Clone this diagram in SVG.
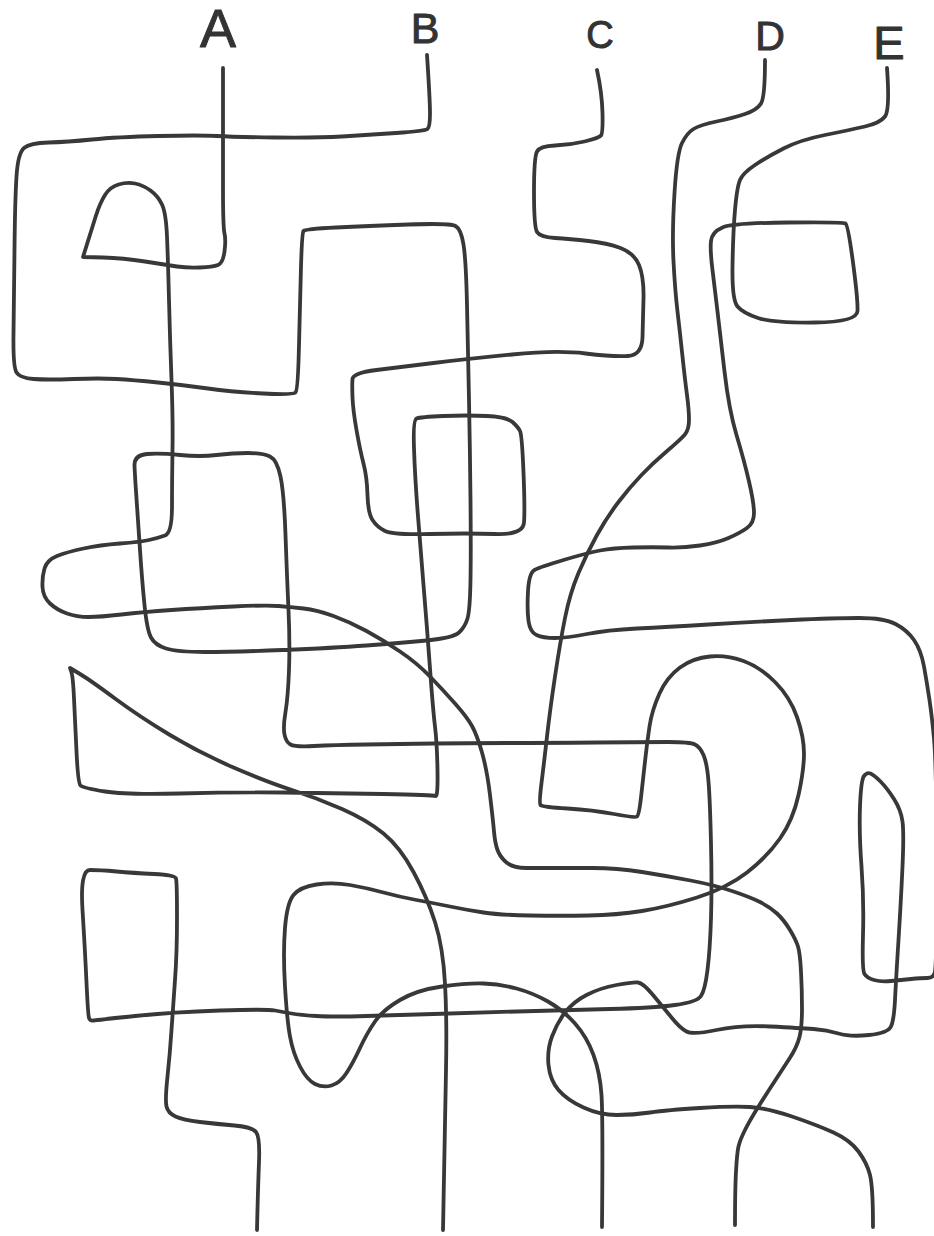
<svg xmlns="http://www.w3.org/2000/svg" width="934" height="1236" viewBox="0 0 934 1236">
<style>
.ln{fill:none;stroke:#383838;stroke-width:3.8;stroke-linecap:round;stroke-linejoin:round}
.lb{font-family:"Liberation Sans",Arial,sans-serif;fill:#333;stroke:#333;stroke-width:1;stroke-linejoin:round;text-anchor:middle}
</style>
<rect width="934" height="1236" fill="#ffffff"/>
<g id="labels">
<text class="lb" x="218" y="47" font-size="54">A</text>
<text class="lb" x="425" y="43" font-size="43">B</text>
<text class="lb" x="600" y="48" font-size="38">C</text>
<text class="lb" x="770" y="50" font-size="41">D</text>
<text class="lb" x="889" y="59" font-size="47">E</text>
</g>
<g id="lines">
<path id="lineA" class="ln" d="M223,68 Q223,150 223,188.5 Q223,227 224.5,233.5 Q226,240 224.5,251.5 Q223,263 218,265 Q213,267 200,267.5 Q187,268 177,266.5 Q167,265 145,261.5 Q123,258 103,257.5 L83,257 L96,215.5 Q100,203 105,195 Q110,187 118.5,184.5 Q127,182 135,183.5 Q143,185 150.5,190.5 Q158,196 162,204.5 Q166,213 167,236.5 Q168,260 169,300 Q170,340 171.5,380 Q173,420 172.5,450 Q172,480 172,506.5 Q172,533 165,535.5 Q158,538 149,540 Q140,542 120,543.5 Q100,545 83.5,548.5 Q67,552 57,556 Q47,560 44.5,568.5 Q42,577 42.5,587 Q43,597 50,603.5 Q57,610 67,613.5 Q77,617 88.5,617 Q100,617 121.5,614.5 Q143,612 171.5,610 Q200,608 233.5,606.5 Q267,605 278.5,606 Q290,607 303.5,608.5 Q317,610 333.5,616 Q350,622 366.5,631 Q383,640 400,651.5 Q417,663 430,676.5 Q443,690 455,703.5 Q467,717 472,726 Q477,735 482,752.5 Q487,770 490,795 Q493,820 494,831.5 Q495,843 497.5,850 Q500,857 506.5,862.5 Q513,868 526.5,868 Q540,868 553.5,868 Q567,868 592,868 Q617,868 642,872 Q667,876 690.5,880.5 Q714,885 732,891 Q750,897 760,902 Q770,907 777,913.5 Q784,920 790,930 Q796,940 798,946.5 Q800,953 801,971.5 Q802,990 802,1008.5 Q802,1027 799.5,1037 Q797,1047 789.5,1058.5 Q782,1070 774.5,1081.5 Q767,1093 758.5,1106.5 Q750,1120 745,1130 Q740,1140 738.5,1146.5 Q737,1153 736,1171.5 Q735,1190 735,1225"/>
<path id="lineB" class="ln" d="M427,55 Q430,100 430,113.5 Q430,127 427.5,129 Q425,131 396,133 Q367,135 342,136.5 Q317,138 275,137.5 Q233,137 216.5,136 Q200,135 158.5,136 Q117,137 92,139.5 Q67,142 48.5,142.5 Q30,143 24,148 Q18,153 16.5,176.5 Q15,200 14.5,250 Q14,300 13.5,333.5 Q13,367 16.5,372.5 Q20,378 33.5,379 Q47,380 73.5,379 Q100,378 116.5,379 Q133,380 158,382.5 Q183,385 208,388.5 Q233,392 263,393.5 Q293,395 295.5,392.5 Q298,390 299,345 Q300,300 301,266.5 Q302,233 303.5,231 Q305,229 336,227.5 Q367,226 408.5,224.5 Q450,223 455.5,226 Q461,229 463.5,244.5 Q466,260 467,305 Q468,350 469,400 Q470,450 470.5,500 Q471,550 470.5,580 Q470,610 467.5,618.5 Q465,627 459,632.5 Q453,638 426.5,640.5 Q400,643 366.5,645.5 Q333,648 283,650 Q233,652 205,652 Q177,652 166,648.5 Q155,645 151,637.5 Q147,630 144.5,605 Q142,580 140,550 Q138,520 136.5,498.5 Q135,477 134.5,466 Q134,455 147,454 Q160,453 180,455 Q200,457 216.5,455 Q233,453 248,453 Q263,453 270,456.5 Q277,460 280.5,476.5 Q284,493 285.5,535 Q287,577 288.5,610 Q290,643 289,670 Q288,697 285.5,712 Q283,727 284.5,734.5 Q286,742 290.5,744.5 Q295,747 314,746 Q333,745 366.5,744.5 Q400,744 433.5,743.5 Q467,743 507,743 Q547,743 597,742.5 Q647,742 668.5,742 Q690,742 695,744.5 Q700,747 703.5,755 Q707,763 708.5,781.5 Q710,800 711,843.5 Q712,887 711,918.5 Q710,950 707.5,970 Q705,990 701,996 Q697,1002 675,1005 Q653,1008 610,1009 Q567,1010 517,1011.5 Q467,1013 433.5,1014 Q400,1015 366.5,1016 Q333,1017 316.5,1016 Q300,1015 291.5,1013.5 Q283,1012 275,1010.5 Q267,1009 220,1010.5 Q173,1012 135,1016 Q97,1020 93.5,1020.5 Q90,1021 89,1018 Q88,1015 86.5,982.5 Q85,950 82.5,910 Q80,870 90,870 Q100,870 116.5,871.5 Q133,873 154,874 Q175,875 176,878.5 Q177,882 177,917.5 Q177,953 175,980 Q173,1007 171.5,1030 Q170,1053 167.5,1076.5 Q165,1100 166.5,1106.5 Q168,1113 175.5,1116.5 Q183,1120 200,1122 Q217,1124 234.5,1125.5 Q252,1127 256,1132 Q260,1137 259,1162 Q258,1187 257,1230"/>
<path id="lineC" class="ln" d="M597,70 Q602,93 602.5,113 Q603,133 601,135.5 Q599,138 584.5,141.5 Q570,145 555,145.5 Q540,146 537,151.5 Q534,157 534,192 Q534,227 537,232 Q540,237 555,238 Q570,239 588.5,241 Q607,243 620.5,248 Q634,253 639,265 Q644,277 643.5,298.5 Q643,320 642.5,337.5 Q642,355 628,356 Q614,357 585.5,353.5 Q557,350 512,354.5 Q467,359 433.5,363 Q400,367 376.5,370 Q353,373 352.5,379 Q352,385 352.5,397.5 Q353,410 356.5,430 Q360,450 363.5,463.5 Q367,477 367.5,495 Q368,513 372.5,520 Q377,527 385,531 Q393,535 430,534 Q467,533 495,534 Q523,535 524,522.5 Q525,510 523.5,472.5 Q522,435 520,431 Q518,427 512.5,422 Q507,417 487,416 Q467,415 443.5,416 Q420,417 416.5,418.5 Q413,420 414,448.5 Q415,477 417.5,510 Q420,543 423.5,585 Q427,627 430,668.5 Q433,710 435,726.5 Q437,743 437.5,770 Q438,797 435.5,796 Q433,795 383,794 Q333,793 283,792.5 Q233,792 180,793.5 Q127,795 105,791.5 Q83,788 80.5,785.5 Q78,783 76.5,751.5 Q75,720 74,698.5 Q73,677 71.5,672.5 L70,668 L80,674 Q90,680 115,698.5 Q140,717 170,735 Q200,753 233.5,767.5 Q267,782 292,790 Q317,798 342,809 Q367,820 383.5,833.5 Q400,847 413.5,872 Q427,897 435,922 Q443,947 445,983.5 Q447,1020 446,1070 Q445,1120 443,1230"/>
<path id="lineD" class="ln" d="M765,60 Q765,97 761,103.5 Q757,110 745,114 Q733,118 716.5,121.5 Q700,125 693.5,129 Q687,133 682,143 Q677,153 674.5,193 Q672,233 673.5,261.5 Q675,290 677.5,311.5 Q680,333 682.5,356.5 Q685,380 687,395 Q689,410 689,420 Q689,430 684.5,435 Q680,440 666.5,451.5 Q653,463 641.5,475 Q630,487 618.5,502 Q607,517 597,535 Q587,553 578.5,573 Q570,593 565,618 Q560,643 555,676.5 Q550,710 547,736.5 Q544,763 541.5,783 Q539,803 540.5,805 Q542,807 567.5,808.5 Q593,810 614,814 Q635,818 637,816.5 Q639,815 641,797.5 Q643,780 645,761.5 Q647,743 649.5,726.5 Q652,710 659.5,693.5 Q667,677 680,667.5 Q693,658 710,656.5 Q727,655 743.5,661 Q760,667 775,682 Q790,697 797,717 Q804,737 804,753.5 Q804,770 798.5,795 Q793,820 780,838.5 Q767,857 747,872.5 Q727,888 697,897.5 Q667,907 642,911 Q617,915 588.5,915.5 Q560,916 530,915.5 Q500,915 483.5,912.5 Q467,910 450,906.5 Q433,903 416.5,900 Q400,897 383.5,892.5 Q367,888 350,885 Q333,882 316.5,884.5 Q300,887 293.5,895 Q287,903 285,928 Q283,953 285,986.5 Q287,1020 290,1036.5 Q293,1053 300,1066.5 Q307,1080 315,1084 Q323,1088 331.5,1085.5 Q340,1083 346.5,1073 Q353,1063 360,1048 Q367,1033 375,1021.5 Q383,1010 400,1000 Q417,990 442,986.5 Q467,983 483.5,983.5 Q500,984 516.5,988.5 Q533,993 548,1001.5 Q563,1010 575,1023.5 Q587,1037 593.5,1055 Q600,1073 601.5,1095 Q603,1117 602,1227"/>
<path id="lineE" class="ln" d="M887,68 Q890,110 885,116.5 Q880,123 865,126.5 Q850,130 825,135 Q800,140 783.5,148.5 Q767,157 755,165 Q743,173 740,180 Q737,187 735,210 Q733,233 732.5,266.5 Q732,300 737.5,306.5 Q743,313 758,318 Q773,323 815,322.5 Q857,322 857.5,311 Q858,300 853,262.5 Q848,225 845.5,223.5 Q843,222 788,222.5 Q733,223 722.5,227.5 Q712,232 711,241 Q710,250 712.5,270 Q715,290 717.5,311.5 Q720,333 724.5,371.5 Q729,410 736.5,435 Q744,460 749,481.5 Q754,503 754,513 Q754,523 747,528 Q740,533 728.5,538 Q717,543 700,545.5 Q683,548 668,547.5 Q653,547 633,547.5 Q613,548 600,550.5 Q587,553 563.5,560 Q540,567 534.5,570 Q529,573 528,591.5 Q527,610 528.5,621 Q530,632 536.5,635 Q543,638 555,638 Q567,638 587,634 Q607,630 637,628.5 Q667,627 708.5,624.5 Q750,622 792,620 Q834,618 859,618 Q884,618 895.5,624 Q907,630 914,640 Q921,650 924,666.5 Q927,683 929.5,700 Q932,717 934,738.5 Q936,760 936.5,830 Q937,900 936.5,932.5 Q936,965 935,971.5 Q934,978 927.5,978 Q921,978 911,979 Q901,980 891,981 Q881,982 874,980 Q867,978 864.5,974 Q862,970 863,935 Q864,900 861.5,866.5 Q859,833 860,806.5 Q861,780 864,776 Q867,772 870.5,773.5 Q874,775 880.5,781.5 Q887,788 894,799 Q901,810 902.5,821.5 Q904,833 902.5,866.5 Q901,900 898.5,940 Q896,980 895,1000 Q894,1020 891,1026.5 Q888,1033 869,1035 Q850,1037 838.5,1033.5 Q827,1030 813.5,1029 Q800,1028 770,1026.5 Q740,1025 716.5,1030 Q693,1035 686.5,1031.5 Q680,1028 671.5,1017.5 Q663,1007 653,995 Q643,983 638,982.5 Q633,982 616.5,985 Q600,988 586.5,995 Q573,1002 565,1012.5 Q557,1023 552,1036.5 Q547,1050 548.5,1065 Q550,1080 558.5,1090 Q567,1100 583.5,1107.5 Q600,1115 616.5,1115 Q633,1115 650,1112.5 Q667,1110 700,1108 Q733,1106 750,1107 Q767,1108 792,1116.5 Q817,1125 833.5,1132.5 Q850,1140 858.5,1151.5 Q867,1163 870,1175 Q873,1187 873,1227"/>
</g>
</svg>
